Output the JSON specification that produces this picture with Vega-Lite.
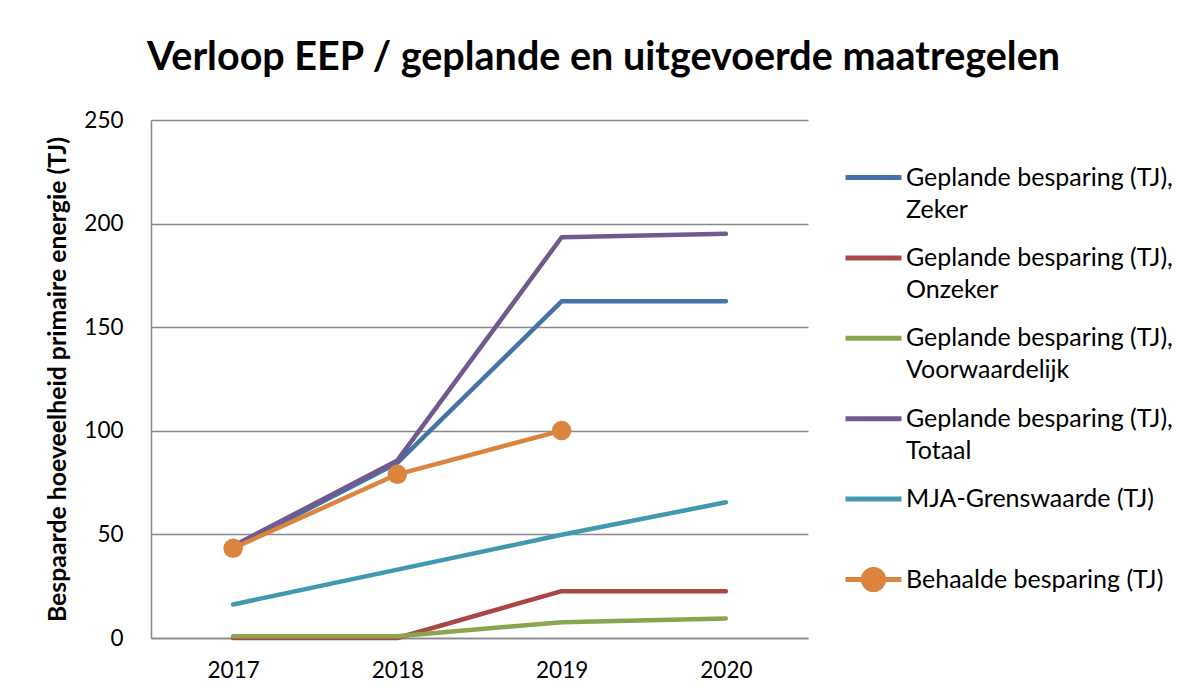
{
  "$schema": "https://vega.github.io/schema/vega-lite/v6.json",
  "width": 657,
  "height": 518,
  "autosize": "none",
  "padding": {"left": 151, "top": 120, "right": 381, "bottom": 58},
  "background": "white",
  "title": {
    "text": "Verloop EEP / geplande en uitgevoerde maatregelen",
    "font": "Lato",
    "fontSize": 39.5,
    "fontWeight": "bold",
    "color": "#000000",
    "anchor": "middle",
    "frame": "group",
    "dx": 124,
    "offset": 31
  },
  "config": {
    "view": {"stroke": null},
    "axis": {"labelFont": "Lato", "titleFont": "Lato", "labelColor": "#000000", "titleColor": "#000000"},
    "legend": {"labelFont": "Lato"}
  },
  "data": {
    "values": [
      {"series": "Geplande besparing (TJ), Zeker", "year": "2017", "value": 43.5},
      {"series": "Geplande besparing (TJ), Zeker", "year": "2018", "value": 84.5},
      {"series": "Geplande besparing (TJ), Zeker", "year": "2019", "value": 162.5},
      {"series": "Geplande besparing (TJ), Zeker", "year": "2020", "value": 162.5},
      {"series": "Geplande besparing (TJ), Onzeker", "year": "2017", "value": 0},
      {"series": "Geplande besparing (TJ), Onzeker", "year": "2018", "value": 0},
      {"series": "Geplande besparing (TJ), Onzeker", "year": "2019", "value": 22.6},
      {"series": "Geplande besparing (TJ), Onzeker", "year": "2020", "value": 22.6},
      {"series": "Geplande besparing (TJ), Voorwaardelijk", "year": "2017", "value": 0.9},
      {"series": "Geplande besparing (TJ), Voorwaardelijk", "year": "2018", "value": 0.9},
      {"series": "Geplande besparing (TJ), Voorwaardelijk", "year": "2019", "value": 7.6},
      {"series": "Geplande besparing (TJ), Voorwaardelijk", "year": "2020", "value": 9.4},
      {"series": "Geplande besparing (TJ), Totaal", "year": "2017", "value": 44.4},
      {"series": "Geplande besparing (TJ), Totaal", "year": "2018", "value": 85.7},
      {"series": "Geplande besparing (TJ), Totaal", "year": "2019", "value": 193.4},
      {"series": "Geplande besparing (TJ), Totaal", "year": "2020", "value": 195.1},
      {"series": "MJA-Grenswaarde (TJ)", "year": "2017", "value": 16.2},
      {"series": "MJA-Grenswaarde (TJ)", "year": "2018", "value": 33.0},
      {"series": "MJA-Grenswaarde (TJ)", "year": "2019", "value": 49.8},
      {"series": "MJA-Grenswaarde (TJ)", "year": "2020", "value": 65.5},
      {"series": "Behaalde besparing (TJ)", "year": "2017", "value": 43.3},
      {"series": "Behaalde besparing (TJ)", "year": "2018", "value": 79.0},
      {"series": "Behaalde besparing (TJ)", "year": "2019", "value": 100.1}
    ]
  },
  "encoding": {
    "x": {
      "field": "year",
      "type": "ordinal",
      "scale": {"type": "point", "padding": 0.5},
      "axis": {
        "title": null,
        "labelAngle": 0,
        "labelFontSize": 22.5,
        "labelPadding": 21,
        "ticks": false,
        "grid": false,
        "domainColor": "#888888",
        "domainWidth": 1.5
      }
    },
    "y": {
      "field": "value",
      "type": "quantitative",
      "scale": {"domain": [0, 250], "nice": false},
      "axis": {
        "title": "Bespaarde hoeveelheid primaire energie (TJ)",
        "titleFontSize": 24.8,
        "titleFontWeight": "bold",
        "titlePadding": 13,
        "values": [0, 50, 100, 150, 200, 250],
        "labelFontSize": 22.5,
        "labelPadding": 28,
        "ticks": false,
        "grid": true,
        "gridColor": "#888888",
        "gridWidth": 1.5,
        "domainColor": "#888888",
        "domainWidth": 1.5
      }
    },
    "color": {
      "field": "series",
      "type": "nominal",
      "scale": {
        "domain": [
          "Geplande besparing (TJ), Zeker",
          "Geplande besparing (TJ), Onzeker",
          "Geplande besparing (TJ), Voorwaardelijk",
          "Geplande besparing (TJ), Totaal",
          "MJA-Grenswaarde (TJ)",
          "Behaalde besparing (TJ)"
        ],
        "range": ["#4572A7", "#AA4643", "#89A54E", "#71588F", "#4198AF", "#DB843D"]
      },
      "legend": {
        "title": null,
        "orient": "none",
        "legendX": 692,
        "legendY": 27,
        "padding": 0,
        "symbolType": "stroke",
        "symbolSize": 3136,
        "symbolStrokeWidth": 5,
        "labelFontSize": 25,
        "labelColor": "#000000",
        "labelOffset": 2,
        "labelLimit": 400,
        "labelBaseline": "middle",
        "rowPadding": 4.4,
        "gridAlign": "all",
        "labelExpr": "indexof(datum.label, ', ') > 0 ? [substring(datum.label, 0, indexof(datum.label, ', ') + 1), substring(datum.label, indexof(datum.label, ', ') + 2)] : [datum.label, '']",
        "encode": {
          "labels": {
            "update": {
              "lineHeight": {"value": 32}
            }
          },
          "symbols": {
            "update": {
              "shape": {"signal": "datum.value === 'Behaalde besparing (TJ)' ? 'M-1,0L1,0M-0.36,0A0.36,0.36,0,1,0,0.36,0A0.36,0.36,0,1,0,-0.36,0Z' : 'stroke'"},
              "fill": {"signal": "datum.value === 'Behaalde besparing (TJ)' ? '#DB843D' : 'transparent'"}
            }
          }
        }
      }
    }
  },
  "layer": [
    {
      "mark": {"type": "line", "strokeWidth": 4.5, "strokeCap": "round", "strokeJoin": "round"}
    },
    {
      "transform": [{"filter": "datum.series === 'Behaalde besparing (TJ)'"}],
      "mark": {"type": "point", "filled": true, "size": 380, "opacity": 1}
    }
  ]
}
